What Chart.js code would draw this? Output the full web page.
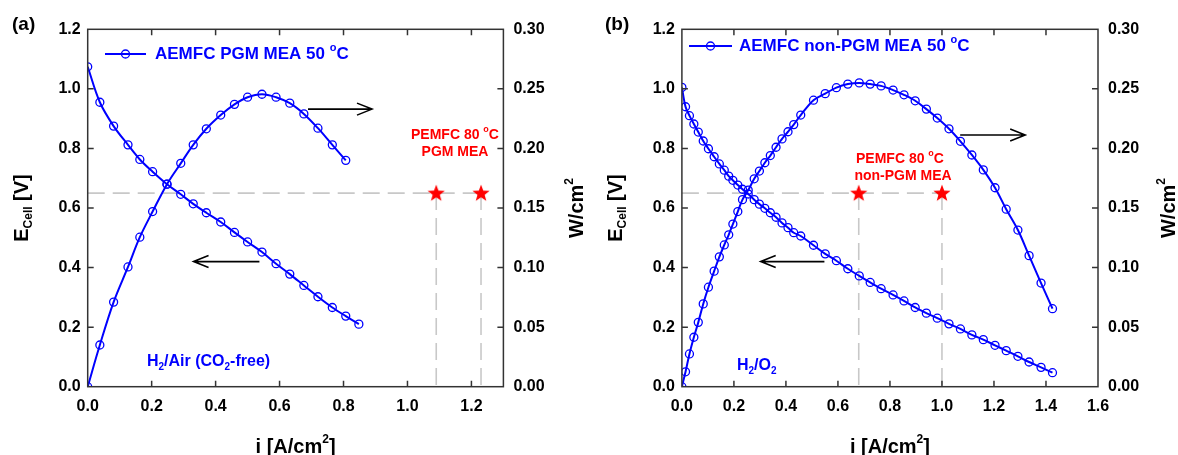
<!DOCTYPE html>
<html>
<head>
<meta charset="utf-8">
<script src="https://cdn.jsdelivr.net/npm/chart.js@4.4.1/dist/chart.umd.min.js"></script>
<style>
  html, body { margin:0; padding:0; background:#fff; }
  #wrap { position:relative; width:1178px; height:455px; overflow:hidden; }
  canvas { position:absolute; top:0; }
</style>
</head>
<body>
<div id="wrap">
  <canvas id="ca" width="590" height="455" style="left:0;width:590px;height:455px"></canvas>
  <canvas id="cb" width="588" height="455" style="left:590px;width:588px;height:455px"></canvas>
</div>
<script>
// ---------------- DATA ----------------
// Panel (a): AEMFC PGM MEA 50 °C, H2/Air (CO2-free)
const iA  = [0,0.038,0.081,0.126,0.163,0.203,0.248,0.291,0.330,0.371,0.416,0.459,0.500,0.545,0.589,0.632,0.676,0.720,0.765,0.807,0.848];
const eA  = [1.074,0.955,0.875,0.812,0.763,0.722,0.680,0.646,0.614,0.584,0.553,0.518,0.486,0.452,0.413,0.378,0.340,0.302,0.266,0.237,0.210];
const iAp = [0,0.038,0.081,0.126,0.163,0.203,0.248,0.291,0.330,0.371,0.416,0.459,0.500,0.545,0.589,0.632,0.676,0.720,0.765,0.807];
const pA  = [0,0.035,0.071,0.1005,0.1255,0.147,0.170,0.1875,0.203,0.2165,0.228,0.237,0.243,0.2455,0.243,0.238,0.229,0.217,0.203,0.190];
const starIA = [1.09, 1.23];
const starEA = [0.65, 0.65];

// Panel (b): AEMFC non-PGM MEA 50 °C, H2/O2
const iB = [0,0.014,0.029,0.046,0.063,0.082,0.102,0.124,0.144,0.163,0.180,0.196,0.215,0.233,0.255,0.278,0.298,0.319,0.340,0.362,0.385,0.408,0.430,0.457,
            0.506,0.551,0.594,0.638,0.682,0.724,0.766,0.812,0.854,0.897,0.940,0.982,1.027,1.071,1.115,1.159,1.204,1.247,1.292,1.335,1.381,1.425];
const eB = [1.005,0.940,0.910,0.882,0.855,0.825,0.799,0.772,0.748,0.727,0.707,0.693,0.677,0.663,0.647,0.628,0.613,0.599,0.584,0.569,0.550,0.534,0.517,0.506,
            0.475,0.446,0.423,0.396,0.372,0.350,0.329,0.308,0.288,0.266,0.247,0.230,0.211,0.194,0.174,0.158,0.139,0.121,0.102,0.083,0.065,0.047];
const pB = [0,0.0125,0.0275,0.0415,0.054,0.0695,0.0835,0.097,0.109,0.119,0.1275,0.1365,0.147,0.157,0.165,0.1745,0.181,0.188,0.194,0.201,0.208,0.214,0.220,0.228,
            0.2405,0.246,0.251,0.254,0.255,0.254,0.2525,0.249,0.245,0.240,0.233,0.2255,0.2165,0.206,0.1945,0.182,0.167,0.149,0.1315,0.110,0.087,0.0655];
const starIB = [0.68, 1.00];
const starEB = [0.65, 0.65];

// Tick labels
const xTicksA = [0,0.2,0.4,0.6,0.8,1.0,1.2];
const xTicksB = [0,0.2,0.4,0.6,0.8,1.0,1.2,1.4,1.6];
const eTicks  = [0,0.2,0.4,0.6,0.8,1.0,1.2];
const wTicks  = [0,0.05,0.10,0.15,0.20,0.25,0.30];

// Guide arrows (data units on E axis): [xStart, xEnd, E]
const arrowsA = [[0.689,0.889,0.932],[0.537,0.331,0.420]];
const arrowsB = [[1.070,1.320,0.845],[0.548,0.303,0.420]];

// ---------------- STYLE / HELPERS ----------------
const BLUE = '#0000ff', RED = '#ff0000';
const FONT = '"Liberation Sans", Arial, Helvetica, sans-serif';

function makeStar() {
  const c = document.createElement('canvas');
  c.width = 20; c.height = 20;
  const g = c.getContext('2d');
  g.fillStyle = RED; g.beginPath();
  const R = 9, r = 3.8;
  for (let k = 0; k < 10; k++) {
    const a = -Math.PI/2 + k*Math.PI/5;
    const rr = (k%2===0) ? R : r;
    const px = 10 + rr*Math.cos(a), py = 10.5 + rr*Math.sin(a);
    if (k===0) g.moveTo(px,py); else g.lineTo(px,py);
  }
  g.closePath(); g.fill();
  return c;
}
const starImg = makeStar();

// rich text: parts = [[text, 'n'|'sub'|'sup'], ...]
function rich(ctx, parts, x, y, size, weight, color, align) {
  const small = Math.round(size*0.62);
  let total = 0;
  const w = parts.map(([t, s]) => {
    ctx.font = weight + ' ' + (s==='n'?size:small) + 'px ' + FONT;
    const m = ctx.measureText(t).width; total += m; return m;
  });
  let cx = align==='center' ? x - total/2 : (align==='right' ? x - total : x);
  ctx.fillStyle = color; ctx.textBaseline = 'middle'; ctx.textAlign = 'left';
  parts.forEach(([t, s], k) => {
    ctx.font = weight + ' ' + (s==='n'?size:small) + 'px ' + FONT;
    let dy = 0;
    if (s==='sub') dy = size*0.32;
    if (s==='sup') dy = -size*0.38;
    ctx.fillText(t, cx, y + dy);
    cx += w[k];
  });
}

const deco = {
  id: 'deco',
  afterDraw(chart, args, o) {
    const ctx = chart.ctx, a = chart.chartArea;
    const sx = chart.scales.x, sy = chart.scales.y, sy2 = chart.scales.y2;
    ctx.save();
    // frame
    ctx.strokeStyle = '#333'; ctx.lineWidth = 1.5;
    ctx.strokeRect(a.left, a.top, a.right - a.left, a.bottom - a.top);
    // inward ticks
    ctx.beginPath();
    const TL = 6;
    o.xTicks.forEach(v => {
      const px = sx.getPixelForValue(v);
      if (px <= a.left + 1 || px >= a.right - 1) return;
      ctx.moveTo(px, a.bottom); ctx.lineTo(px, a.bottom - TL);
      ctx.moveTo(px, a.top); ctx.lineTo(px, a.top + TL);
    });
    eTicks.forEach(v => {
      const py = sy.getPixelForValue(v);
      if (py <= a.top + 1 || py >= a.bottom - 1) return;
      ctx.moveTo(a.left, py); ctx.lineTo(a.left + TL, py);
    });
    wTicks.forEach(v => {
      const py = sy2.getPixelForValue(v);
      if (py <= a.top + 1 || py >= a.bottom - 1) return;
      ctx.moveTo(a.right, py); ctx.lineTo(a.right - TL, py);
    });
    ctx.stroke();
    // arrows
    ctx.strokeStyle = '#000'; ctx.lineWidth = 1.6;
    o.arrows.forEach(([x1, x2, e]) => {
      const p1 = sx.getPixelForValue(x1), p2 = sx.getPixelForValue(x2), py = sy.getPixelForValue(e);
      const d = Math.sign(p2 - p1);
      ctx.beginPath();
      ctx.moveTo(p1, py); ctx.lineTo(p2, py);
      ctx.moveTo(p2 - d*15, py - 6); ctx.lineTo(p2, py); ctx.lineTo(p2 - d*15, py + 6);
      ctx.stroke();
    });
    // legend
    const L = o.legend;
    ctx.strokeStyle = BLUE; ctx.lineWidth = 2;
    ctx.beginPath(); ctx.moveTo(L.x1, L.y); ctx.lineTo(L.x2, L.y); ctx.stroke();
    ctx.lineWidth = 1.3;
    ctx.beginPath(); ctx.arc((L.x1 + L.x2)/2, L.y, 4, 0, Math.PI*2); ctx.stroke();
    rich(ctx, L.parts, L.tx, L.y, 17, 'bold', BLUE, 'left');
    // texts
    o.texts.forEach(t => rich(ctx, t.parts, t.x, t.y, t.size, t.weight, t.color, t.align));
    // axis titles
    rich(ctx, [['i [A/cm','n'],['2','sup'],[']','n']], (a.left + a.right)/2, 447, 20, 'bold', '#000', 'center');
    const midY = (a.top + a.bottom)/2;
    ctx.save(); ctx.translate(o.eTitleX, midY); ctx.rotate(-Math.PI/2);
    rich(ctx, [['E','n'],['Cell','sub'],[' [V]','n']], 0, 0, 20, 'bold', '#000', 'center');
    ctx.restore();
    ctx.save(); ctx.translate(o.wTitleX, midY); ctx.rotate(-Math.PI/2);
    rich(ctx, [['W/cm','n'],['2','sup']], 0, 0, 20, 'bold', '#000', 'center');
    ctx.restore();
    // panel label
    rich(ctx, [[o.panel,'n']], o.panelX, 25, 19, 'bold', '#000', 'left');
    ctx.restore();
  }
};

function pts(xs, ys) { return xs.map((v, k) => ({x: v, y: ys[k]})); }

function build(id, cfg) {
  const dashColor = '#c8c8c8';
  const lastStar = cfg.starI[cfg.starI.length - 1];
  const datasets = [
    { data: pts(cfg.i, cfg.e), yAxisID: 'y', borderColor: BLUE, borderWidth: 2, tension: 0.35,
      pointStyle: 'circle', pointRadius: 4, pointBorderWidth: 1.3, pointBorderColor: BLUE, pointBackgroundColor: 'rgba(0,0,0,0)' },
    { data: pts(cfg.ip, cfg.p), yAxisID: 'y2', borderColor: BLUE, borderWidth: 2, tension: 0.35,
      pointStyle: 'circle', pointRadius: 4, pointBorderWidth: 1.3, pointBorderColor: BLUE, pointBackgroundColor: 'rgba(0,0,0,0)' },
    { data: pts(cfg.starI, cfg.starE), yAxisID: 'y', showLine: false, pointStyle: starImg, pointRadius: 9 },
    { data: [{x: 0, y: cfg.starE[0]}, {x: lastStar, y: cfg.starE[0]}], yAxisID: 'y', borderColor: dashColor,
      borderWidth: 1.6, borderDash: [17, 8], pointRadius: 0, tension: 0 },
  ];
  cfg.starI.forEach((s, k) => datasets.push({
    data: [{x: s, y: cfg.starE[k]}, {x: s, y: 0}], yAxisID: 'y', borderColor: dashColor,
    borderWidth: 1.6, borderDash: [17, 8], pointRadius: 0, tension: 0 }));

  const tickFont = {family: FONT, size: 16, weight: 'bold'};
  return new Chart(document.getElementById(id), {
    type: 'line',
    data: { datasets },
    plugins: [deco],
    options: {
      responsive: false, animation: false, devicePixelRatio: 1,
      layout: { padding: { top: 29.3, left: 0, right: 0, bottom: 0 } },
      plugins: { legend: {display: false}, tooltip: {enabled: false},
        deco: { xTicks: cfg.xTicks, arrows: cfg.arrows, legend: cfg.legend, texts: cfg.texts,
                eTitleX: cfg.eTitleX, wTitleX: cfg.wTitleX, panel: cfg.panel, panelX: cfg.panelX } },
      scales: {
        x: { type: 'linear', position: 'bottom', min: 0, max: cfg.xMax,
             grid: {display: false, drawTicks: false}, border: {display: false},
             ticks: {font: tickFont, color: '#000', padding: 10, maxRotation: 0, autoSkip: false,
                     callback: v => Number(v).toFixed(1)},
             afterBuildTicks: s => { s.ticks = cfg.xTicks.map(v => ({value: v})); },
             afterFit: s => { s.height = 68.3; } },
        y: { type: 'linear', position: 'left', min: 0, max: 1.2,
             grid: {display: false, drawTicks: false}, border: {display: false},
             ticks: {font: tickFont, color: '#000', padding: 7, callback: v => Number(v).toFixed(1)},
             afterBuildTicks: s => { s.ticks = eTicks.map(v => ({value: v})); },
             afterFit: s => { s.width = cfg.leftW; } },
        y2: { type: 'linear', position: 'right', min: 0, max: 0.3,
             grid: {display: false, drawTicks: false}, border: {display: false},
             ticks: {font: tickFont, color: '#000', padding: 10, callback: v => Number(v).toFixed(2)},
             afterBuildTicks: s => { s.ticks = wTicks.map(v => ({value: v})); },
             afterFit: s => { s.width = cfg.rightW; } }
      }
    }
  });
}

build('ca', {
  i: iA, e: eA, ip: iAp, p: pA, starI: starIA, starE: starEA,
  xMax: 1.3, xTicks: xTicksA, leftW: 87.7, rightW: 86.6, arrows: arrowsA,
  eTitleX: 22, wTitleX: 577, panel: '(a)', panelX: 12,
  legend: { x1: 105, x2: 146, y: 54, tx: 155, parts: [['AEMFC PGM MEA 50 ','n'],['o','sup'],['C','n']] },
  texts: [
    { parts: [['PEMFC 80 ','n'],['o','sup'],['C','n']], x: 455, y: 135, size: 14, weight: 'bold', color: RED, align: 'center' },
    { parts: [['PGM MEA','n']], x: 455, y: 152, size: 14, weight: 'bold', color: RED, align: 'center' },
    { parts: [['H','n'],['2','sub'],['/Air (CO','n'],['2','sub'],['-free)','n']], x: 147, y: 362, size: 16, weight: 'bold', color: BLUE, align: 'left' }
  ]
});

build('cb', {
  i: iB, e: eB, ip: iB, p: pB, starI: starIB, starE: starEB,
  xMax: 1.6, xTicks: xTicksB, leftW: 91.9, rightW: 80, arrows: arrowsB,
  eTitleX: 26, wTitleX: 579, panel: '(b)', panelX: 15,
  legend: { x1: 99, x2: 142, y: 46, tx: 149, parts: [['AEMFC non-PGM MEA 50 ','n'],['o','sup'],['C','n']] },
  texts: [
    { parts: [['PEMFC 80 ','n'],['o','sup'],['C','n']], x: 310, y: 159, size: 14, weight: 'bold', color: RED, align: 'center' },
    { parts: [['non-PGM MEA','n']], x: 313, y: 176, size: 14, weight: 'bold', color: RED, align: 'center' },
    { parts: [['H','n'],['2','sub'],['/O','n'],['2','sub']], x: 147, y: 366, size: 16, weight: 'bold', color: BLUE, align: 'left' }
  ]
});
</script>
</body>
</html>
